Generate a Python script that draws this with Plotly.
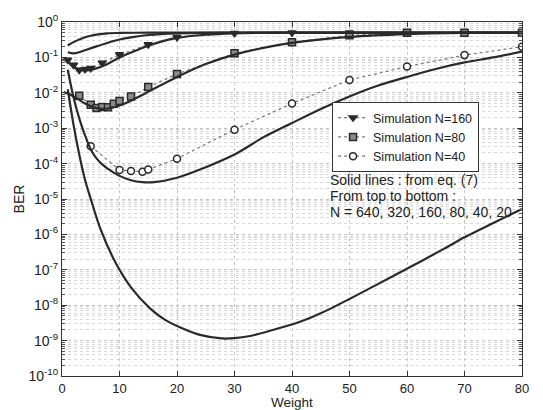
import plotly.graph_objects as go

# ---- data ----
w_640 = [1, 2, 3, 4, 5, 6, 8, 10, 15, 20, 30, 40, 50, 60, 70, 80]
ber_640 = [0.22, 0.27, 0.32, 0.37, 0.41, 0.44, 0.48, 0.49, 0.5, 0.5, 0.5, 0.5, 0.5, 0.5, 0.5, 0.5]

w_320 = [1, 2, 3, 4, 6, 8, 10, 12, 15, 20, 25, 30, 40, 50, 60, 70, 80]
ber_320 = [0.14, 0.13, 0.14, 0.16, 0.205, 0.26, 0.32, 0.37, 0.43, 0.48, 0.496, 0.5, 0.5, 0.5, 0.5, 0.5, 0.5]

w_160 = [0.3, 1, 2, 3, 4, 5, 6, 7, 8, 10, 12, 15, 20, 25, 30, 35, 40, 50, 60, 70, 80]
ber_160 = [0.087, 0.076, 0.055, 0.046, 0.043, 0.044, 0.049, 0.056, 0.066, 0.1, 0.138, 0.214,
           0.355, 0.437, 0.479, 0.495, 0.5, 0.5, 0.5, 0.5, 0.5]

w_80 = [0.3, 1, 2, 3, 4, 5, 6, 7, 8, 10, 12, 15, 20, 25, 30, 35, 40, 50, 60, 70, 80]
ber_80 = [0.0105, 0.0095, 0.0079, 0.0063, 0.005, 0.0042, 0.0037, 0.0035, 0.0036, 0.0044, 0.006,
          0.0107, 0.028, 0.065, 0.12, 0.186, 0.257, 0.38, 0.457, 0.49, 0.5]

w_40 = [1, 2, 3, 4, 5, 6, 7, 8, 10, 12, 14, 16, 20, 25, 30, 35, 40, 45, 50, 55, 60, 65, 70, 75, 80]
ber_40 = [0.045, 0.0075, 0.0019, 6.3e-4, 2.5e-4, 1.4e-4, 9.5e-5, 7.1e-5, 4.5e-5, 3.4e-5, 3.0e-5,
          3.0e-5, 4.0e-5, 7.9e-5, 1.8e-4, 5.5e-4, 1.4e-3, 3.5e-3, 7.9e-3, 0.016, 0.028, 0.047,
          0.072, 0.1, 0.145]

w_20 = [1, 2, 3, 4, 5, 6.7, 9, 12, 15.4, 18, 21, 24, 27.8, 30, 32.7, 36, 41.4, 45, 50, 55,
        59.4, 66.4, 70, 75, 80]
ber_20 = [0.0126, 1.26e-3, 1.8e-4, 3.5e-5, 1.0e-5, 1.4e-6, 2.0e-7, 3.2e-8, 7.9e-9, 3.8e-9,
          2.2e-9, 1.45e-9, 1.15e-9, 1.17e-9, 1.35e-9, 1.86e-9, 3.4e-9, 5.9e-9, 1.5e-8, 4.0e-8,
          9.5e-8, 3.9e-7, 8.3e-7, 2.1e-6, 5.2e-6]

sim_w_160 = [1, 2, 3, 4, 5, 7, 10, 15, 20, 30, 40, 50, 60, 70, 80]
sim_ber_160 = [0.085, 0.061, 0.044, 0.046, 0.049, 0.07, 0.12, 0.23, 0.37, 0.48, 0.5, 0.5, 0.5, 0.5, 0.5]

sim_w_80 = [3, 5, 6, 7, 8, 9, 10, 12, 15, 20, 30, 40, 50, 60, 70, 80]
sim_ber_80 = [0.0083, 0.0046, 0.0037, 0.0040, 0.0039, 0.0049, 0.0059, 0.0078, 0.0145, 0.034,
              0.13, 0.27, 0.42, 0.5, 0.5, 0.5]

sim_w_40 = [5, 10, 12, 14, 15, 20, 30, 40, 50, 60, 70, 80]
sim_ber_40 = [3.1e-4, 6.6e-5, 6.2e-5, 5.9e-5, 6.8e-5, 1.38e-4, 9.1e-4, 5.0e-3, 0.023, 0.055, 0.116, 0.2]

y_exps = list(range(-10, 1))
x_ticks = [0, 10, 20, 30, 40, 50, 60, 70, 80]

note_lines = ["Solid lines : from eq. (7)", "From top to bottom :", "N = 640, 320, 160, 80, 40, 20"]

# ---- figure ----
FONT = "Liberation Sans, Arial, sans-serif"
INK = "#2a2a2a"
TOP, BOTTOM = 22, 376  # plot-area pixel rows

fig = go.Figure()

sims = [
    ("Simulation N=160", sim_w_160, sim_ber_160, "triangle-down", INK, INK),
    ("Simulation N=80", sim_w_80, sim_ber_80, "square", "#8a8a8a", INK),
    ("Simulation N=40", sim_w_40, sim_ber_40, "circle", "white", INK),
]
for name, xs, ys, sym, fill, edge in sims:
    fig.add_trace(go.Scatter(
        x=xs, y=ys, name=name, mode="lines+markers",
        line=dict(color="#777777", width=1.2, dash="dot"),
        marker=dict(symbol=sym, size=7, color=fill, line=dict(color=edge, width=1.5)),
    ))

for xs, ys in [(w_640, ber_640), (w_320, ber_320), (w_160, ber_160),
               (w_80, ber_80), (w_40, ber_40), (w_20, ber_20)]:
    fig.add_trace(go.Scatter(
        x=xs, y=ys, mode="lines", showlegend=False, hoverinfo="skip",
        line=dict(color=INK, width=2.2, shape="spline", smoothing=0.8),
    ))

fig.update_xaxes(
    range=[0, 80], tickvals=x_ticks, ticktext=[str(v) for v in x_ticks],
    showline=True, linecolor="#333333", linewidth=1, mirror="ticks",
    ticks="inside", ticklen=5, tickcolor="#333333",
    showgrid=True, gridcolor="#c4c4c4", griddash="dot", gridwidth=1,
    zeroline=False, automargin=False,
    tickfont=dict(size=13, family=FONT, color="#222"),
)
fig.update_yaxes(
    type="log", range=[-10, 0],
    tickvals=[10.0 ** e for e in y_exps],
    ticktext=["10<sup>%d</sup>" % e for e in y_exps],
    showline=True, linecolor="#333333", linewidth=1, mirror="ticks",
    ticks="inside", ticklen=5, tickcolor="#333333",
    showgrid=True, gridcolor="#c4c4c4", griddash="dot", gridwidth=1,
    minor=dict(ticks="inside", ticklen=3, tickcolor="#555555", showgrid=True,
               gridcolor="#d8d8d8", griddash="dot", dtick="D1"),
    zeroline=False, automargin=False,
    title=dict(text="BER", standoff=0, font=dict(size=14, family=FONT, color="#222")),
    tickfont=dict(size=14, family=FONT, color="#222"),
)

# x-axis title, placed just under the tick labels
fig.add_annotation(
    xref="paper", yref="paper", x=0.5, y=(BOTTOM - 402) / (BOTTOM - TOP),
    xanchor="center", yanchor="middle", showarrow=False,
    text="Weight", font=dict(size=13.5, family=FONT, color="#222"),
)

# note lines centred at 180, 196, 212 px
for i, line in enumerate(note_lines):
    fig.add_annotation(
        xref="paper", yref="paper", x=0.578, y=(BOTTOM - (180 + 16 * i)) / (BOTTOM - TOP),
        xanchor="left", yanchor="middle", align="left", showarrow=False,
        text=line, font=dict(size=14, family=FONT, color="#222"),
    )

fig.update_layout(
    width=543, height=410,
    margin=dict(l=62, r=21, t=TOP, b=410 - BOTTOM),
    paper_bgcolor="white", plot_bgcolor="white",
    font=dict(family=FONT, size=14, color="#222"),
    legend=dict(
        x=0.587, y=(BOTTOM - 102) / (BOTTOM - TOP), xanchor="left", yanchor="top",
        bgcolor="white", bordercolor="#333333", borderwidth=1,
        font=dict(size=12.5, family=FONT, color="#222"),
        itemwidth=30, tracegroupgap=0,
    ),
)

fig.write_html("out.html", config={"displayModeBar": False},
               post_script="document.body.style.margin='0';")
